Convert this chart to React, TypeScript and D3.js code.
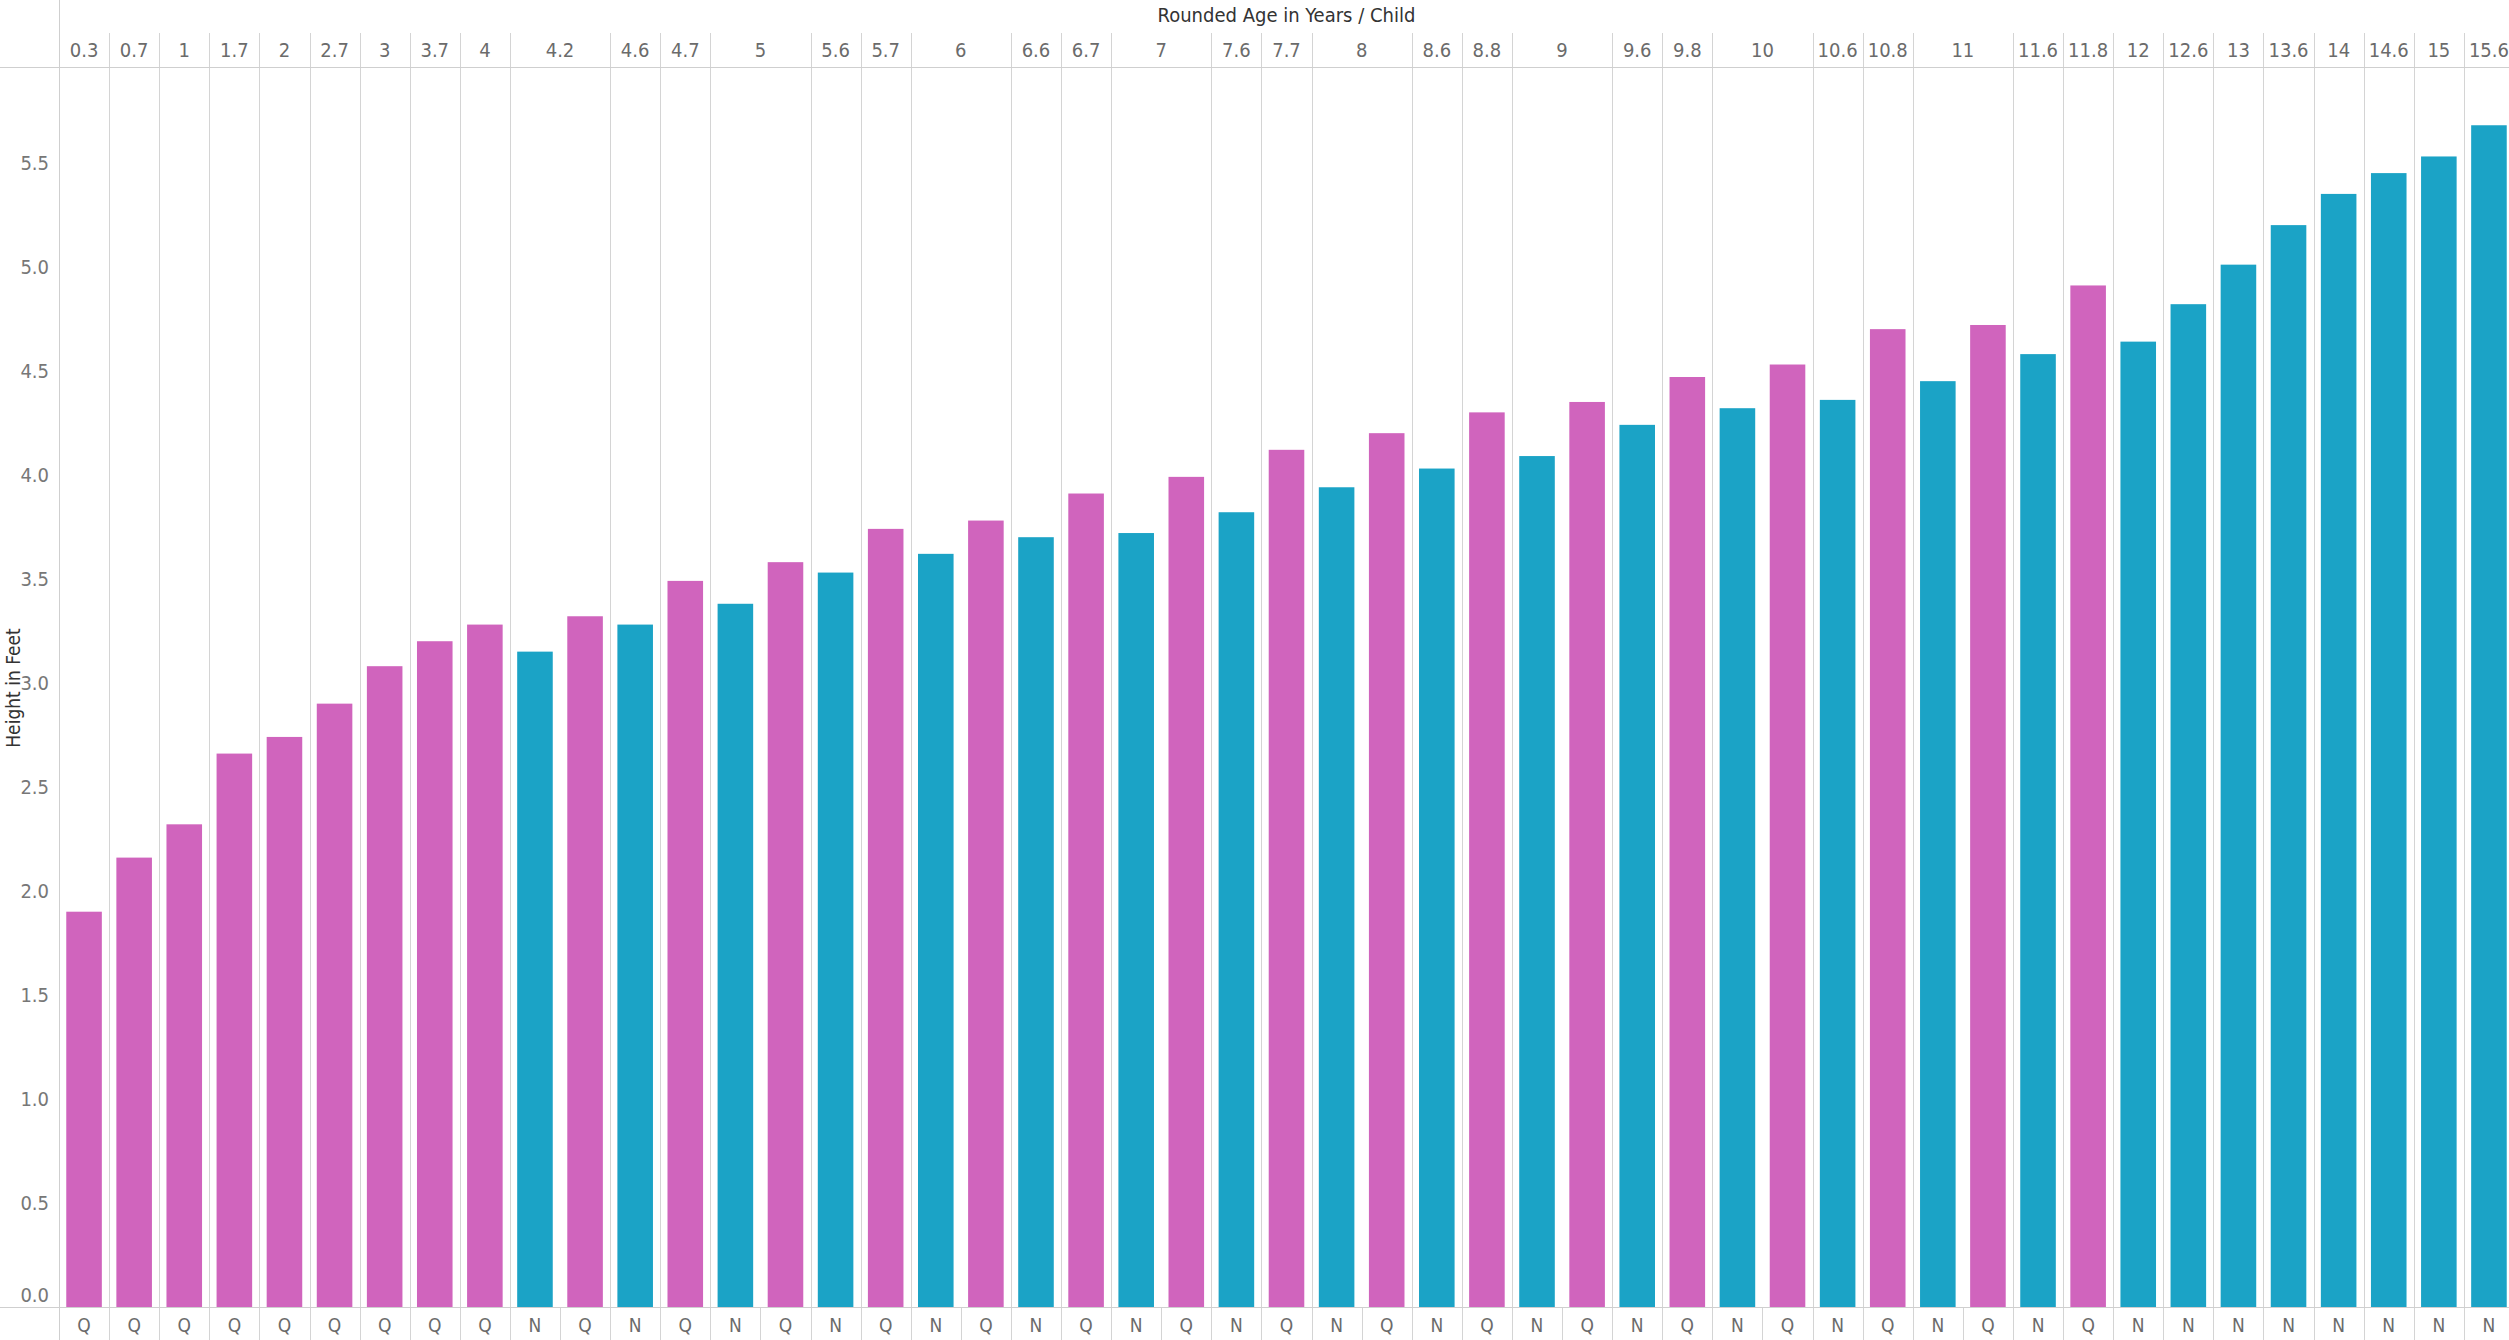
import React from 'react';
import * as d3 from 'd3';

// one entry per bar, left to right
const barAge = [
  '0.3', '0.7', '1', '1.7', '2', '2.7', '3', '3.7', '4', '4.2', '4.2', '4.6', '4.7', '5', '5', '5.6', '5.7',
  '6', '6', '6.6', '6.7', '7', '7', '7.6', '7.7', '8', '8', '8.6', '8.8', '9', '9', '9.6', '9.8', '10', '10',
  '10.6', '10.8', '11', '11', '11.6', '11.8', '12', '12.6', '13', '13.6', '14', '14.6', '15', '15.6',
];
const barChild = [
  'Q', 'Q', 'Q', 'Q', 'Q', 'Q', 'Q', 'Q', 'Q', 'N', 'Q', 'N', 'Q', 'N', 'Q', 'N', 'Q',
  'N', 'Q', 'N', 'Q', 'N', 'Q', 'N', 'Q', 'N', 'Q', 'N', 'Q', 'N', 'Q', 'N', 'Q', 'N', 'Q',
  'N', 'Q', 'N', 'Q', 'N', 'Q', 'N', 'N', 'N', 'N', 'N', 'N', 'N', 'N',
];
const heightFeet = [
  1.9, 2.16, 2.32, 2.66, 2.74, 2.9, 3.08, 3.2, 3.28, 3.15, 3.32, 3.28, 3.49, 3.38, 3.58, 3.53, 3.74,
  3.62, 3.78, 3.7, 3.91, 3.72, 3.99, 3.82, 4.12, 3.94, 4.2, 4.03, 4.3, 4.09, 4.35, 4.24, 4.47, 4.32, 4.53,
  4.36, 4.7, 4.45, 4.72, 4.58, 4.91, 4.64, 4.82, 5.01, 5.2, 5.35, 5.45, 5.53, 5.68,
];
const yTicks = [0, 0.5, 1, 1.5, 2, 2.5, 3, 3.5, 4, 4.5, 5, 5.5];

const childColor = { Q: '#d064bd', N: '#1ba3c6' };

const W = 2509;
const H = 1340;
const margin = { left: 59, right: -5, top: 67, bottom: 33 };
const headerTop = 33;
const baseline = H - margin.bottom;
const font = '"Liberation Sans Narrow", "DejaVu Sans Condensed", Roboto, sans-serif';

const App = () => {
  const idx = barAge.map((_, i) => String(i));
  const slot = d3.scaleBand().domain(idx).range([margin.left, W - margin.right]);
  const xBar = d3
    .scaleBand()
    .domain(idx)
    .range([margin.left, W - margin.right])
    .paddingInner(0.29)
    .paddingOuter(0.145);
  const y = d3.scaleLinear().domain([0, 5.96]).range([baseline, margin.top]);

  // group consecutive bars of the same age into header columns
  const groups = [];
  barAge.forEach((a, i) => {
    const last = groups[groups.length - 1];
    if (last && last.label === a) {
      last.end = i;
    } else {
      groups.push({ label: a, start: i, end: i });
    }
  });
  const slotEnd = (i) => slot(String(i)) + slot.step();

  return (
    <div style={{ position: 'absolute', left: 0, top: 0, width: W, height: H, overflow: 'hidden' }}>
      <svg width={W} height={H} style={{ display: 'block', background: '#fff' }} fontFamily={font}>
        {/* bars */}
        {heightFeet.map((v, i) => (
          <rect
            key={i}
            x={xBar(String(i))}
            y={y(v)}
            width={xBar.bandwidth()}
            height={y(0) - y(v)}
            fill={childColor[barChild[i]]}
          />
        ))}

        {/* column dividers */}
        {groups.map((g) => (
          <line
            key={'g' + g.label}
            x1={Math.round(slotEnd(g.end)) + 0.5}
            x2={Math.round(slotEnd(g.end)) + 0.5}
            y1={headerTop}
            y2={baseline}
            stroke="#d4d4d4"
          />
        ))}
        {barChild.map((_, i) => (
          <line
            key={'c' + i}
            x1={Math.round(slotEnd(i)) + 0.5}
            x2={Math.round(slotEnd(i)) + 0.5}
            y1={baseline}
            y2={H}
            stroke="#d4d4d4"
          />
        ))}
        <line x1={0} x2={W} y1={margin.top + 0.5} y2={margin.top + 0.5} stroke="#cfcfcf" />
        <line x1={0} x2={W} y1={baseline + 0.5} y2={baseline + 0.5} stroke="#cfcfcf" />
        <line x1={margin.left + 0.5} x2={margin.left + 0.5} y1={0} y2={H} stroke="#cfcfcf" />

        {/* header */}
        <text x={(margin.left + W - margin.right) / 2} y={22} textAnchor="middle" fontSize={20} fill="#333">
          Rounded Age in Years  /  Child
        </text>
        {groups.map((g) => (
          <text
            key={'h' + g.label}
            x={(slot(String(g.start)) + slotEnd(g.end)) / 2}
            y={57}
            textAnchor="middle"
            fontSize={20}
            fill="#6b6b6b"
          >
            {g.label}
          </text>
        ))}

        {/* child labels */}
        {barChild.map((c, i) => (
          <text
            key={'l' + i}
            x={slot(String(i)) + slot.step() / 2}
            y={1332}
            textAnchor="middle"
            fontSize={19}
            fill="#6b6b6b"
          >
            {c}
          </text>
        ))}

        {/* y axis */}
        {yTicks.map((t) => (
          <text
            key={'y' + t}
            x={49}
            y={y(t) + (t === 0 ? -12 : 0)}
            dy="0.35em"
            textAnchor="end"
            fontSize={20}
            fill="#777"
          >
            {t.toFixed(1)}
          </text>
        ))}
        <text transform={`translate(20,${688}) rotate(-90)`} textAnchor="middle" fontSize={19} fill="#333">
          Height in Feet
        </text>
      </svg>
    </div>
  );
};

export default App;
